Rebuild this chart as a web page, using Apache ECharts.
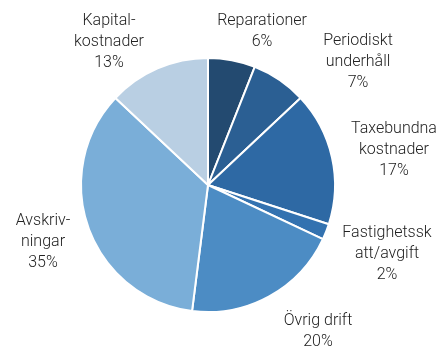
<!DOCTYPE html>
<html><head><meta charset="utf-8">
<script src="https://cdn.jsdelivr.net/npm/echarts@6/dist/echarts.min.js"></script>
<style>html,body{margin:0;padding:0;background:#fff}#c{width:443px;height:347px}</style>
</head><body><div id="c"></div>
<script>
const categories = ['Reparationer','Periodiskt underhåll','Taxebundna kostnader','Fastighetsskatt/avgift','Övrig drift','Avskrivningar','Kapitalkostnader'];
const values = [6, 7, 17, 2, 20, 35, 13];
const labelTexts = ['Reparationer','Periodiskt\nunderhåll','Taxebundna\nkostnader','Fastighetssk\natt/avgift','Övrig drift','Avskriv-\nningar','Kapital-\nkostnader'];
const colors = ['#234a70','#2b5f93','#2e69a4','#3372b0','#4c8cc4','#7aaed8','#b9cfe3'];
const labelPos = [[262,31],[358,62],[394,150],[387,254],[318,331],[43,242],[109,42]];

const chart = echarts.init(document.getElementById('c'));
chart.setOption({
  animation: false,
  series: [{
    type: 'pie',
    center: [208, 185],
    radius: [0, 127],
    startAngle: 90,
    clockwise: true,
    itemStyle: { borderColor: '#fff', borderWidth: 2 },
    label: {
      show: true,
      position: 'outside',
      alignTo: 'none',
      overflow: 'none',
      formatter: p => labelTexts[p.dataIndex] + '\n' + p.value + '%',
      fontFamily: 'Roboto',
      fontWeight: 300,
      fontSize: 16,
      lineHeight: 21,
      color: '#222',
      align: 'center'
    },
    labelLine: { show: false },
    labelLayout: p => ({ x: labelPos[p.dataIndex][0], y: labelPos[p.dataIndex][1], align: 'center', verticalAlign: 'middle', width: 140 }),
    data: categories.map((c, i) => ({ name: c, value: values[i], itemStyle: { color: colors[i] } }))
  }]
});
</script></body></html>
